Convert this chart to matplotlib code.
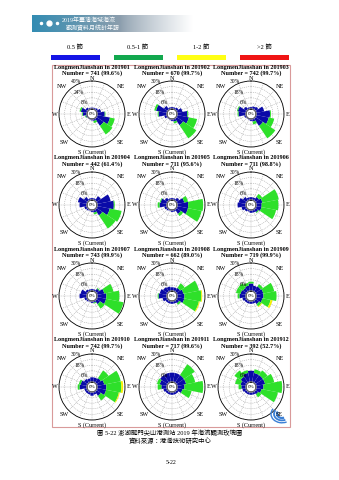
import numpy as np
import matplotlib.pyplot as plt
from matplotlib.patches import Rectangle, Arc

# ---- data ----
months = ['201901', '201902', '201903', '201904', '201905', '201906',
          '201907', '201908', '201909', '201910', '201911', '201912']
counts = [741, 670, 742, 442, 711, 711, 743, 662, 719, 742, 717, 392]
rates = ['99.6', '99.7', '99.7', '61.4', '95.6', '98.8',
         '99.9', '89.0', '99.9', '99.7', '99.6', '52.7']
r_max = [40, 30, 30, 30, 30, 30, 30, 30, 30, 30, 30, 30]
speed_labels = ['0.5 節', '0.5-1 節', '1-2 節', '>2 節']
compass = ['N', 'NE', 'E', 'SE', 'S (Current)', 'SW', 'W', 'NW']

# percentages per direction (N, NNE, NE, ... NNW), one row per month
blue = [
    [2, 2, 3, 6, 11, 19, 13, 3, 2, 1, 1, 2, 6, 9, 4, 2],
    [2, 2, 3, 6, 11, 13, 9, 3, 2, 1, 1, 3, 9, 12, 5, 2],
    [2, 3, 4, 9, 15, 14, 10, 3, 2, 1, 1, 2, 8, 9, 4, 2],
    [2, 2, 6, 15, 18, 14, 8, 3, 2, 1, 2, 3, 8, 10, 5, 2],
    [2, 2, 4, 8, 12, 12, 6, 2, 2, 1, 2, 3, 8, 7, 4, 2],
    [3, 3, 5, 7, 6, 6, 4, 3, 3, 2, 3, 5, 9, 8, 5, 3],
    [2, 2, 4, 8, 10, 10, 5, 2, 2, 1, 2, 3, 8, 7, 3, 2],
    [4, 4, 5, 7, 8, 8, 4, 3, 3, 3, 3, 5, 9, 8, 6, 5],
    [8, 6, 7, 8, 8, 7, 5, 3, 3, 3, 3, 4, 7, 6, 5, 6],
    [5, 5, 6, 8, 10, 10, 6, 3, 4, 3, 3, 3, 8, 7, 5, 4],
    [10, 10, 10, 10, 8, 6, 3, 3, 3, 3, 3, 4, 6, 8, 10, 10],
    [12, 10, 10, 10, 8, 6, 4, 3, 3, 3, 3, 4, 5, 6, 8, 10],
]
green = [
    [0, 0, 0, 0, 1, 7, 15, 3, 0, 0, 0, 1, 1, 2, 0, 0],
    [0, 0, 0, 0, 1, 9, 17, 2, 0, 0, 0, 0, 1, 2, 0, 0],
    [0, 0, 0, 0, 1, 6, 16, 3, 0, 0, 0, 0, 1, 1, 0, 0],
    [0, 0, 0, 0, 1, 13, 17, 2, 0, 0, 0, 0, 0, 0, 0, 0],
    [0, 0, 0, 4, 16, 15, 3, 0, 0, 0, 0, 0, 2, 1, 0, 0],
    [0, 0, 4, 18, 18, 16, 1, 0, 0, 0, 0, 0, 0, 0, 0, 0],
    [0, 0, 1, 10, 14, 19, 6, 1, 0, 0, 0, 0, 0, 0, 0, 0],
    [0, 0, 6, 17, 18, 16, 2, 0, 0, 0, 0, 0, 1, 0, 0, 0],
    [2, 0, 3, 12, 14, 9, 3, 0, 0, 0, 0, 0, 2, 5, 6, 3],
    [0, 0, 10, 18, 16, 14, 6, 0, 0, 0, 0, 0, 2, 2, 0, 0],
    [0, 0, 14, 10, 20, 10, 0, 0, 0, 0, 0, 0, 4, 3, 0, 0],
    [0, 4, 6, 10, 20, 18, 4, 0, 0, 0, 0, 0, 3, 6, 8, 3],
]
yellow = [[0] * 16 for _ in range(12)]
yellow[7][4] = 1; yellow[7][5] = 1
yellow[8][5] = 2; yellow[8][6] = 1
yellow[9][4] = 2; yellow[9][5] = 1
red = [[0] * 16 for _ in range(12)]

rose_colors = ['#0a0aa8', '#2ee02a', '#f4f000', '#e01010']
legend_colors = ['#1414e6', '#12a84e', '#ffff14', '#f01414']

W, H = 339, 480
SERIF = ['Liberation Serif', 'DejaVu Serif']
CJK = ['Liberation Serif', 'Noto Sans CJK TC', 'DejaVu Sans']

fig = plt.figure(figsize=(W / 100, H / 100), dpi=100)


def fx(x):
    return x / W


def fy(y):
    return 1 - y / H


# ---- banner ----
bax = fig.add_axes([fx(32), fy(32), fx(161), 17 / H])
t = np.linspace(0, 1, 200)
start = np.array([0.20, 0.55, 0.70])
mid = np.array([0.55, 0.62, 0.68])
grad = np.where(t[:, None] < 0.55,
                start + (mid - start) * (t[:, None] / 0.55),
                mid + (1 - mid) * ((t[:, None] - 0.55) / 0.45) ** 0.8)
bax.imshow(grad[None, :, :], aspect='auto', extent=[0, 1, 0, 1])
bax.axis('off')
fig.lines.append(plt.Line2D([fx(41), fx(57)], [fy(23), fy(23)], ls='none',
                            marker='o', ms=1.5, color='white',
                            transform=fig.transFigure))
fig.lines.append(plt.Line2D([fx(49)], [fy(23)], ls='none', marker='o', ms=3.5,
                            color='white', transform=fig.transFigure))
fig.text(fx(62), fy(20), '2019年臺灣海域海流', color='white', fontsize=4.3,
         family=CJK, ha='left', va='center')
fig.text(fx(66), fy(28), '觀測資料月統計年報', color='white', fontsize=4.3,
         family=CJK, ha='left', va='center')

# ---- legend ----
leg_x = [51, 114, 177, 240]
for i in range(4):
    fig.text(fx(leg_x[i] + 24), fy(47), speed_labels[i], fontsize=4.6,
             family=CJK, ha='center', va='center')
    fig.patches.append(Rectangle((fx(leg_x[i]), fy(60)), fx(49), 5 / H,
                                 transform=fig.transFigure,
                                 color=legend_colors[i], lw=0))

# ---- frame ----
fig.patches.append(Rectangle((fx(52), fy(427)), fx(238), 362 / H,
                             transform=fig.transFigure, fill=False,
                             ec='#d99a9a', lw=0.8))

# ---- roses ----
col_x = [92, 172, 251]
row_y = [114, 205, 296, 387]
R = 33
HOLE = 0.18
theta = np.deg2rad(np.arange(16) * 22.5)
width = 2 * np.pi / 16
# label offsets from the rose centre, in pixels (dx, dy downwards)
lab_off = [(0, -36), (29, -28), (37, 0), (28, 28), (0, 38), (-28, 28),
           (-37, 0), (-30, -28)]

for k in range(12):
    cx = col_x[k % 3]
    cy = row_y[k // 3]
    ax = fig.add_axes([fx(cx - R), fy(cy + R), fx(2 * R), 2 * R / H],
                      projection='polar')
    ax.set_theta_zero_location('N')
    ax.set_theta_direction(-1)
    rm = r_max[k]
    ax.set_ylim(0, rm)
    ax.set_rorigin(-HOLE * rm)

    bottom = np.zeros(16)
    for vals, col in zip([blue, green, yellow, red], rose_colors):
        v = np.array(vals[k], dtype=float)
        ax.bar(theta, v, width=width, bottom=bottom, color=col, lw=0,
               align='center', zorder=3)
        bottom += v

    ax.set_xticks(theta)
    ax.set_xticklabels([])
    ticks = np.linspace(rm / 5, rm, 5)
    ax.set_yticks(ticks)
    ax.set_yticklabels([])
    ax.grid(True, ls=(0, (2, 2)), lw=0.35, color='#999999')
    ax.spines['polar'].set_linewidth(0.6)
    ax.spines['inner'].set_visible(False)

    ring = np.linspace(0, 2 * np.pi, 120)
    ax.fill(ring, np.zeros_like(ring), color='white', zorder=4)
    ax.plot(ring, np.zeros_like(ring), color='black', lw=0.5, zorder=5)
    ax.text(0.5, 0.5, '0%', transform=ax.transAxes, ha='center', va='center',
            fontsize=3.6, family=SERIF, zorder=6)

    # radial labels along the NNW-NW line
    for i in (0, 2, 4):
        rpx = R * (ticks[i] + HOLE * rm) / (rm + HOLE * rm) + 3
        ang = np.deg2rad(-35 + 2 * i)
        fig.text(fx(cx + rpx * np.sin(ang)), fy(cy - rpx * np.cos(ang)),
                 f'{int(ticks[i])}%', fontsize=4.0, family=SERIF,
                 ha='center', va='center')

    for lab, (dx, dy) in zip(compass, lab_off):
        fig.text(fx(cx + dx), fy(cy + dy), lab, fontsize=4.4, family=SERIF,
                 ha='center', va='center')

    fig.text(fx(cx), fy(cy - 47), f'LongmenJianshan in {months[k]}',
             fontsize=4.4, fontweight='bold', family=SERIF,
             ha='center', va='center')
    fig.text(fx(cx), fy(cy - 41), f'Number = {counts[k]} ({rates[k]}%)',
             fontsize=4.4, fontweight='bold', family=SERIF,
             ha='center', va='center')

# ---- small logo, bottom right of the frame ----
lax = fig.add_axes([fx(268), fy(426), fx(20), 18 / H])
lax.set_xlim(0, 20)
lax.set_ylim(0, 18)
lax.axis('off')
for r0, lw in [(5, 1.6), (8, 1.3), (11, 1.0)]:
    lax.add_patch(Arc((14, 12), 2 * r0, 2 * r0 * 0.8, theta1=150, theta2=300,
                      color='#3a7fd5', lw=lw))

# ---- caption ----
fig.text(fx(170), fy(433), '圖 5-22 澎湖龍門尖山港測站 2019 年海流觀測玫瑰圖',
         fontsize=4.6, family=CJK, ha='center', va='center')
fig.text(fx(170), fy(441), '資料來源：港灣技術研究中心',
         fontsize=4.6, family=CJK, ha='center', va='center')
fig.text(fx(171), fy(462), '5-22', fontsize=4.2, family=SERIF,
         ha='center', va='center')

fig.savefig('out.png', dpi=100)
